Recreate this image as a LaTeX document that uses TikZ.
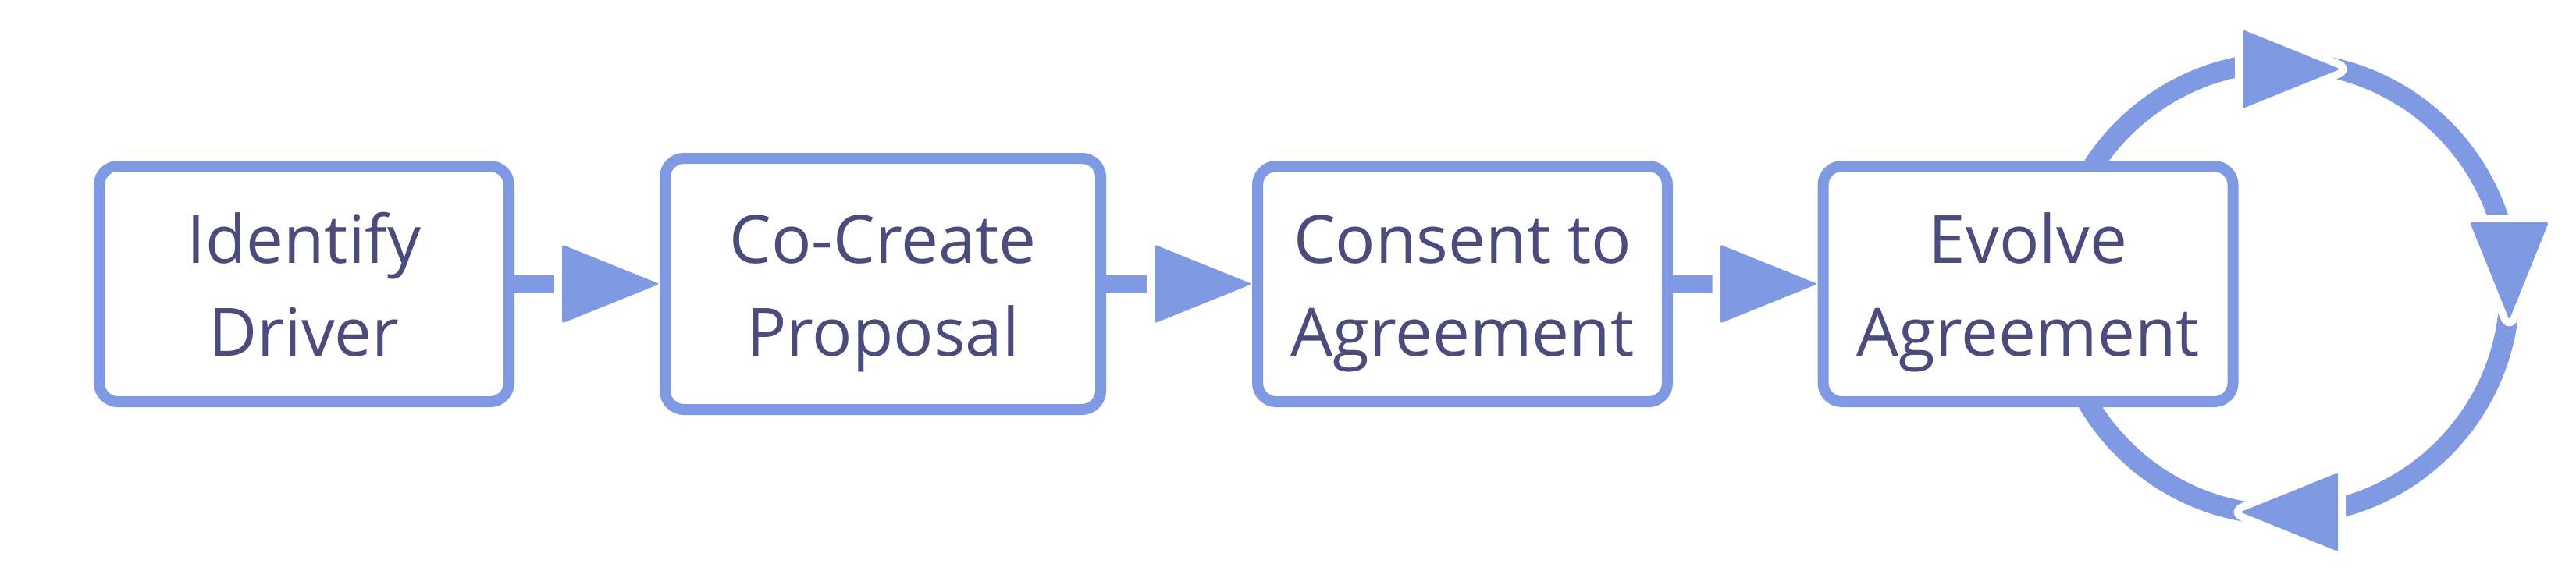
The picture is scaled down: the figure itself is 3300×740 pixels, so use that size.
\documentclass[tikz,border=0pt]{standalone}
\usepackage{fontspec}
\setmainfont{Open Sans}
\usepackage{tikz}
\usetikzlibrary{backgrounds}

\definecolor{flowblue}{RGB}{127,154,227}
\definecolor{flowtext}{RGB}{75,75,124}
\newcommand{\boxstrut}{\rule[-2.4mm]{0pt}{11.4mm}}

\begin{document}
\begin{tikzpicture}[
        x=0.1mm, y=-0.1mm,
        stepbox/.style={draw=flowblue, line width=1.4mm, fill=white, rounded corners=2.4mm,
            minimum width=52.5mm, minimum height=30.2mm, align=center, text=flowtext,
            font=\fontsize{24.3}{33.6}\selectfont},
        flowline/.style={draw=flowblue, line width=2.3mm},
        cycleline/.style={draw=flowblue, line width=2.6mm},
        headtri/.pic={
            \path[fill=flowblue, rounded corners=0.3mm,
                preaction={draw=white, line width=2mm, line join=round}]
                (0,0) -- (-125,-50.5) -- (-125,50.5) -- cycle;
        }
    ]

    \useasboundingbox (0,0) rectangle (3300,740);

    % Steps
    \node[stepbox] (driver) at (389.5,364) {\boxstrut Identify\\\boxstrut Driver};
    \node[stepbox, minimum width=55.8mm, minimum height=32.2mm] (proposal) at (1131,364)
        {\boxstrut Co-Create\\\boxstrut Proposal};
    \node[stepbox] (consent) at (1873.5,364) {\boxstrut Consent to\\\boxstrut Agreement};
    \node[stepbox] (evolve) at (2598,364) {\boxstrut Evolve\\\boxstrut Agreement};

    \begin{scope}[on background layer]
        % Flow between steps
        \draw[flowline] (driver.east) -- (proposal.west);
        \pic at (proposal.west) {headtri};
        \draw[flowline] (proposal.east) -- (consent.west);
        \pic at (consent.west) {headtri};
        \draw[flowline] (consent.east) -- (evolve.west);
        \pic at (evolve.west) {headtri};

        % Evolve loop
        \coordinate (hub) at (2925,370);
        \draw[cycleline] (hub) circle[radius=290];
        \coordinate (looptop) at (2998,88.5);
        \coordinate (loopright) at (3214.5,410);
        \coordinate (loopbottom) at (2870,656.5);
        \pic at (looptop) {headtri};
        \pic[rotate=-90] at (loopright) {headtri};
        \pic[rotate=180] at (loopbottom) {headtri};
    \end{scope}

\end{tikzpicture}
\end{document}
